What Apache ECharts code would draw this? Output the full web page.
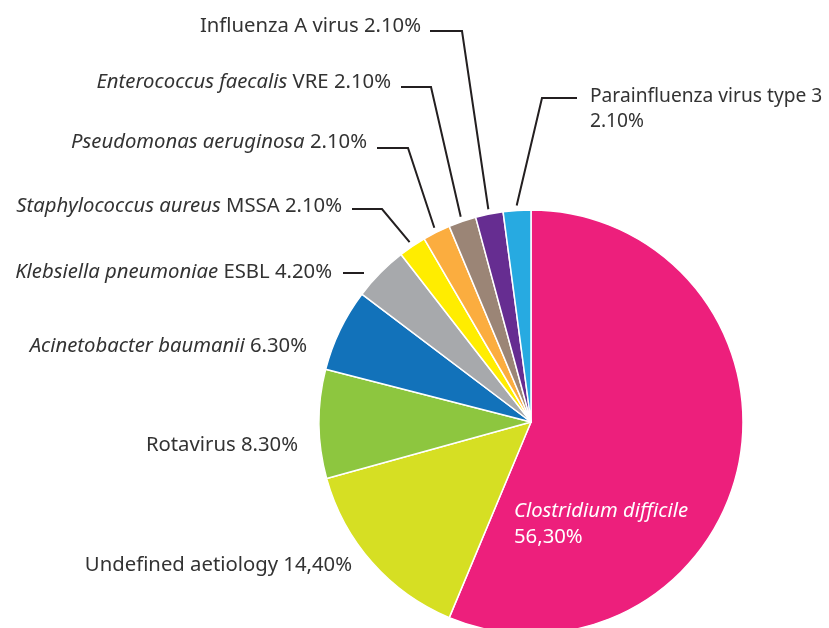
<!DOCTYPE html>
<html>
<head>
<meta charset="utf-8">
<script src="https://cdn.jsdelivr.net/npm/echarts@6/dist/echarts.min.js"></script>
<style>
  html, body { margin: 0; padding: 0; background: #fff; }
  #main { width: 829px; height: 628px; }
</style>
</head>
<body>
<div id="main"></div>
<script>
// slice order: clockwise from 12 o'clock
const italicNames = ['Clostridium difficile', '', '', 'Acinetobacter baumanii', 'Klebsiella pneumoniae',
  'Staphylococcus aureus', 'Pseudomonas aeruginosa', 'Enterococcus faecalis', '', ''];
const plainNames = ['', 'Undefined aetiology', 'Rotavirus', '', 'ESBL',
  'MSSA', '', 'VRE', 'Influenza A virus', 'Parainfluenza virus type 3'];
const values = [56.3, 14.4, 8.3, 6.3, 4.2, 2.1, 2.1, 2.1, 2.1, 2.1];
const pctLabels = ['56,30%', '14,40%', '8.30%', '6.30%', '4.20%', '2.10%', '2.10%', '2.10%', '2.10%', '2.10%'];
const colors = ['#ED1F7C', '#D6DF23', '#8DC63F', '#1272BA', '#A7A9AC', '#FFED00', '#FBAD3F', '#9B8576', '#662D91', '#27AAE1'];

const cx = 531, cy = 422, R = 212;

// label anchors (x, y = text middle) and leader lines [lineStartX, elbowX, lineY]
const labelPos = [
  { x: 514, y: 524, align: 'left', wrap: true, white: true },
  { x: 352, y: 565, align: 'right' },
  { x: 298, y: 445, align: 'right' },
  { x: 307, y: 346, align: 'right' },
  { x: 332, y: 272, align: 'right', line: [343, 364, 273], free: true },
  { x: 342, y: 206, align: 'right', line: [352, 382, 209] },
  { x: 367, y: 142, align: 'right', line: [377, 408, 148] },
  { x: 391, y: 82, align: 'right', line: [401, 431, 87] },
  { x: 421, y: 26, align: 'right', line: [430, 462, 31] },
  { x: 590, y: 109, align: 'left', wrap: true, small: true, line: [577, 542, 98] }
];

const total = values.reduce((a, b) => a + b, 0);
const midPoint = (i, r) => {
  let cum = 0;
  for (let k = 0; k < i; k++) cum += values[k];
  const a = (90 - (cum + values[i] / 2) / total * 360) * Math.PI / 180;
  return [cx + r * Math.cos(a), cy - r * Math.sin(a)];
};

const fmt = (i) => {
  const p = labelPos[i];
  const w = p.white ? 'w' : (p.small ? 's' : '');
  let s = '';
  if (italicNames[i]) s += '{i' + w + '|' + italicNames[i] + '}';
  if (plainNames[i]) s += '{n' + w + '|' + (italicNames[i] ? ' ' : '') + plainNames[i] + '}';
  return s + (p.wrap ? '\n' : '{n' + w + '| }') + '{n' + w + '|' + pctLabels[i] + '}';
};

const chartDom = document.getElementById('main');
const myChart = echarts.init(chartDom);

const base = { fontFamily: 'Noto Sans', fontSize: 20.3, lineHeight: 25, color: '#333333' };
const option = {
  animation: false,
  series: [{
    type: 'pie',
    center: [cx, cy],
    radius: R,
    startAngle: 90,
    clockwise: true,
    avoidLabelOverlap: false,
    emphasis: { disabled: true },
    itemStyle: { borderColor: '#fff', borderWidth: 1.5 },
    labelLine: { lineStyle: { color: '#231F20', width: 2 } },
    data: values.map((v, i) => ({
      value: v,
      name: plainNames[i] || italicNames[i],
      itemStyle: { color: colors[i] },
      labelLine: { show: !!labelPos[i].line },
      label: {
        show: true,
        position: 'outside',
        formatter: fmt(i),
        rich: {
          i: Object.assign({}, base, { fontStyle: 'italic' }),
          n: base,
          ns: Object.assign({}, base, { fontSize: 19.2 }),
          iw: Object.assign({}, base, { fontStyle: 'italic', color: '#fff', lineHeight: 26 }),
          nw: Object.assign({}, base, { color: '#fff', lineHeight: 26 })
        }
      }
    }))
  }]
};

option.series[0].labelLayout = function (params) {
  const i = params.dataIndex;
  const p = labelPos[i];
  const out = { x: p.x, y: p.y, align: p.align, verticalAlign: 'middle', hideOverlap: false };
  if (p.line) {
    const [hs, ex, ly] = p.line;
    if (p.free) {
      out.labelLinePoints = [[ex, ly], [hs, ly]];
    } else {
      out.labelLinePoints = [midPoint(i, R + 5), [ex, ly], [hs, ly]];
    }
  }
  return out;
};

option && myChart.setOption(option);
</script>
</body>
</html>
